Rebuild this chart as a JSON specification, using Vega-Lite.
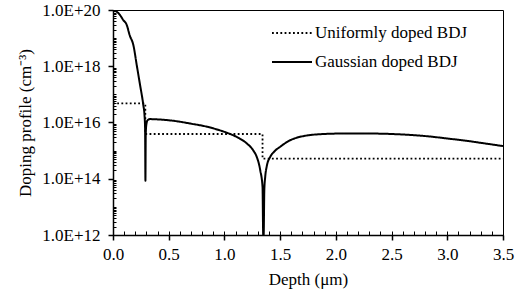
{
  "$schema": "https://vega.github.io/schema/vega-lite/v6.json",
  "width": 390,
  "height": 225,
  "autosize": "none",
  "padding": {"left": 113, "top": 10, "right": 22, "bottom": 60},
  "background": "white",
  "config": {
    "view": {"stroke": "black", "strokeWidth": 1},
    "font": "Liberation Serif, Times New Roman, serif",
    "axis": {
      "grid": false,
      "domainColor": "black",
      "domainWidth": 1.5,
      "tickColor": "black",
      "tickWidth": 1.5,
      "labelColor": "black",
      "titleColor": "black",
      "labelFont": "Liberation Serif, Times New Roman, serif",
      "titleFont": "Liberation Serif, Times New Roman, serif",
      "labelFontSize": 17,
      "titleFontSize": 17,
      "titleFontWeight": "normal",
      "labelFlush": false
    }
  },
  "datasets": {
    "gauss": [
      {"i": 1, "x": 0, "n": 1e20, "s": "Gaussian doped BDJ"},
      {"i": 2, "x": 0.03, "n": 8.9e19, "s": "Gaussian doped BDJ"},
      {"i": 3, "x": 0.063, "n": 6.6e19, "s": "Gaussian doped BDJ"},
      {"i": 4, "x": 0.09, "n": 4.5e19, "s": "Gaussian doped BDJ"},
      {"i": 5, "x": 0.123, "n": 2.95e19, "s": "Gaussian doped BDJ"},
      {"i": 6, "x": 0.15, "n": 1.26e19, "s": "Gaussian doped BDJ"},
      {"i": 7, "x": 0.183, "n": 5.6e18, "s": "Gaussian doped BDJ"},
      {"i": 8, "x": 0.213, "n": 1.1e18, "s": "Gaussian doped BDJ"},
      {"i": 9, "x": 0.243, "n": 2.14e17, "s": "Gaussian doped BDJ"},
      {"i": 10, "x": 0.272, "n": 4.17e16, "s": "Gaussian doped BDJ"},
      {"i": 11, "x": 0.283, "n": 1.78e16, "s": "Gaussian doped BDJ"},
      {"i": 12, "x": 0.288, "n": 6.3e15, "s": "Gaussian doped BDJ"},
      {"i": 13, "x": 0.291, "n": 8.5e13, "s": "Gaussian doped BDJ"},
      {"i": 14, "x": 0.294, "n": 4e15, "s": "Gaussian doped BDJ"},
      {"i": 15, "x": 0.3, "n": 8.9e15, "s": "Gaussian doped BDJ"},
      {"i": 16, "x": 0.31, "n": 1.2e16, "s": "Gaussian doped BDJ"},
      {"i": 17, "x": 0.333, "n": 1.32e16, "s": "Gaussian doped BDJ"},
      {"i": 18, "x": 0.4, "n": 1.29e16, "s": "Gaussian doped BDJ"},
      {"i": 19, "x": 0.542, "n": 1.15e16, "s": "Gaussian doped BDJ"},
      {"i": 20, "x": 0.7, "n": 9.1e15, "s": "Gaussian doped BDJ"},
      {"i": 21, "x": 0.842, "n": 7.1e15, "s": "Gaussian doped BDJ"},
      {"i": 22, "x": 0.95, "n": 5.4e15, "s": "Gaussian doped BDJ"},
      {"i": 23, "x": 1.051, "n": 3.9e15, "s": "Gaussian doped BDJ"},
      {"i": 24, "x": 1.13, "n": 2.8e15, "s": "Gaussian doped BDJ"},
      {"i": 25, "x": 1.201, "n": 1.8e15, "s": "Gaussian doped BDJ"},
      {"i": 26, "x": 1.26, "n": 1e15, "s": "Gaussian doped BDJ"},
      {"i": 27, "x": 1.29, "n": 6e14, "s": "Gaussian doped BDJ"},
      {"i": 28, "x": 1.321, "n": 2.04e14, "s": "Gaussian doped BDJ"},
      {"i": 29, "x": 1.342, "n": 5.1e13, "s": "Gaussian doped BDJ"},
      {"i": 30, "x": 1.348, "n": 1e12, "s": "Gaussian doped BDJ"},
      {"i": 31, "x": 1.352, "n": 1e12, "s": "Gaussian doped BDJ"},
      {"i": 32, "x": 1.358, "n": 4e13, "s": "Gaussian doped BDJ"},
      {"i": 33, "x": 1.366, "n": 1.17e14, "s": "Gaussian doped BDJ"},
      {"i": 34, "x": 1.38, "n": 2.8e14, "s": "Gaussian doped BDJ"},
      {"i": 35, "x": 1.411, "n": 6e14, "s": "Gaussian doped BDJ"},
      {"i": 36, "x": 1.45, "n": 9.5e14, "s": "Gaussian doped BDJ"},
      {"i": 37, "x": 1.501, "n": 1.38e15, "s": "Gaussian doped BDJ"},
      {"i": 38, "x": 1.59, "n": 2.34e15, "s": "Gaussian doped BDJ"},
      {"i": 39, "x": 1.68, "n": 3.1e15, "s": "Gaussian doped BDJ"},
      {"i": 40, "x": 1.89, "n": 3.9e15, "s": "Gaussian doped BDJ"},
      {"i": 41, "x": 2.1, "n": 4.07e15, "s": "Gaussian doped BDJ"},
      {"i": 42, "x": 2.249, "n": 4.07e15, "s": "Gaussian doped BDJ"},
      {"i": 43, "x": 2.5, "n": 3.9e15, "s": "Gaussian doped BDJ"},
      {"i": 44, "x": 2.698, "n": 3.55e15, "s": "Gaussian doped BDJ"},
      {"i": 45, "x": 2.85, "n": 3.16e15, "s": "Gaussian doped BDJ"},
      {"i": 46, "x": 2.998, "n": 2.7e15, "s": "Gaussian doped BDJ"},
      {"i": 47, "x": 3.15, "n": 2.3e15, "s": "Gaussian doped BDJ"},
      {"i": 48, "x": 3.297, "n": 1.9e15, "s": "Gaussian doped BDJ"},
      {"i": 49, "x": 3.5, "n": 1.45e15, "s": "Gaussian doped BDJ"}
    ],
    "uniform": [
      {"i": 1, "x": 0, "n": 4.8e16, "s": "Uniformly doped BDJ"},
      {"i": 2, "x": 0.29, "n": 4.8e16, "s": "Uniformly doped BDJ"},
      {"i": 3, "x": 0.29, "n": 3.9e15, "s": "Uniformly doped BDJ"},
      {"i": 4, "x": 1.342, "n": 3.9e15, "s": "Uniformly doped BDJ"},
      {"i": 5, "x": 1.342, "n": 5.2e14, "s": "Uniformly doped BDJ"},
      {"i": 6, "x": 3.5, "n": 5.2e14, "s": "Uniformly doped BDJ"}
    ]
  },
  "layer": [
    {
      "data": {"name": "uniform"},
      "mark": {"type": "line", "color": "black", "strokeWidth": 1.8, "clip": true},
      "encoding": {
        "x": {
          "field": "x", "type": "quantitative",
          "scale": {"domain": [0, 3.5], "nice": false, "zero": false},
          "axis": {
            "orient": "bottom", "labels": false, "domain": false, "title": null, "tickSize": -4, "tickWidth": 1,
            "values": [0,0.1,0.2,0.3,0.4,0.5,0.6,0.7,0.8,0.9,1,1.1,1.2,1.3,1.4,1.5,1.6,1.7,1.8,1.9,2,2.1,2.2,2.3,2.4,2.5,2.6,2.7,2.8,2.9,3,3.1,3.2,3.3,3.4,3.5]
          }
        },
        "y": {
          "field": "n", "type": "quantitative",
          "scale": {"type": "log", "domain": [1e12, 1e20], "nice": false},
          "axis": {
            "orient": "left", "labels": false, "domain": false, "title": null, "tickSize": -3, "tickWidth": 1,
            "values": [2e12,3e12,4e12,5e12,6e12,7e12,8e12,9e12,1e13,2e13,3e13,4e13,5e13,6e13,7e13,8e13,9e13,
                       2e14,3e14,4e14,5e14,6e14,7e14,8e14,9e14,1e15,2e15,3e15,4e15,5e15,6e15,7e15,8e15,9e15,
                       2e16,3e16,4e16,5e16,6e16,7e16,8e16,9e16,1e17,2e17,3e17,4e17,5e17,6e17,7e17,8e17,9e17,
                       2e18,3e18,4e18,5e18,6e18,7e18,8e18,9e18,1e19,2e19,3e19,4e19,5e19,6e19,7e19,8e19,9e19]
          }
        },
        "order": {"field": "i", "type": "quantitative"},
        "strokeDash": {
          "field": "s", "type": "nominal",
          "scale": {"domain": ["Uniformly doped BDJ", "Gaussian doped BDJ"], "range": [[1.8, 2.4], [1, 0]]},
          "legend": {
            "orient": "none", "legendX": 168, "legendY": 12, "title": null,
            "symbolType": "M-2,0H2", "symbolSize": 400, "symbolStrokeColor": "black", "symbolStrokeWidth": 2,
            "labelFont": "Liberation Serif, Times New Roman, serif", "labelFontSize": 17, "labelColor": "black", "labelOffset": 12,
            "rowPadding": 10
          }
        }
      }
    },
    {
      "data": {"name": "gauss"},
      "mark": {"type": "line", "color": "black", "strokeWidth": 2, "clip": true, "interpolate": "monotone"},
      "encoding": {
        "x": {
          "field": "x", "type": "quantitative",
          "axis": {
            "orient": "bottom", "title": "Depth (μm)", "values": [0,0.5,1,1.5,2,2.5,3,3.5], "format": ".1f",
            "tickSize": 5, "labelPadding": 6, "titlePadding": 9
          }
        },
        "y": {
          "field": "n", "type": "quantitative",
          "axis": {
            "orient": "left", "title": "Doping profile (cm⁻³)", "values": [1e12, 1e14, 1e16, 1e18, 1e20],
            "labelExpr": "replace(format(datum.value, '.1e'), 'e', 'E')",
            "tickSize": 5, "labelPadding": 8, "titlePadding": 7
          }
        },
        "order": {"field": "i", "type": "quantitative"},
        "strokeDash": {"field": "s", "type": "nominal"}
      }
    }
  ],
  "resolve": {"axis": {"x": "independent", "y": "independent"}}
}
